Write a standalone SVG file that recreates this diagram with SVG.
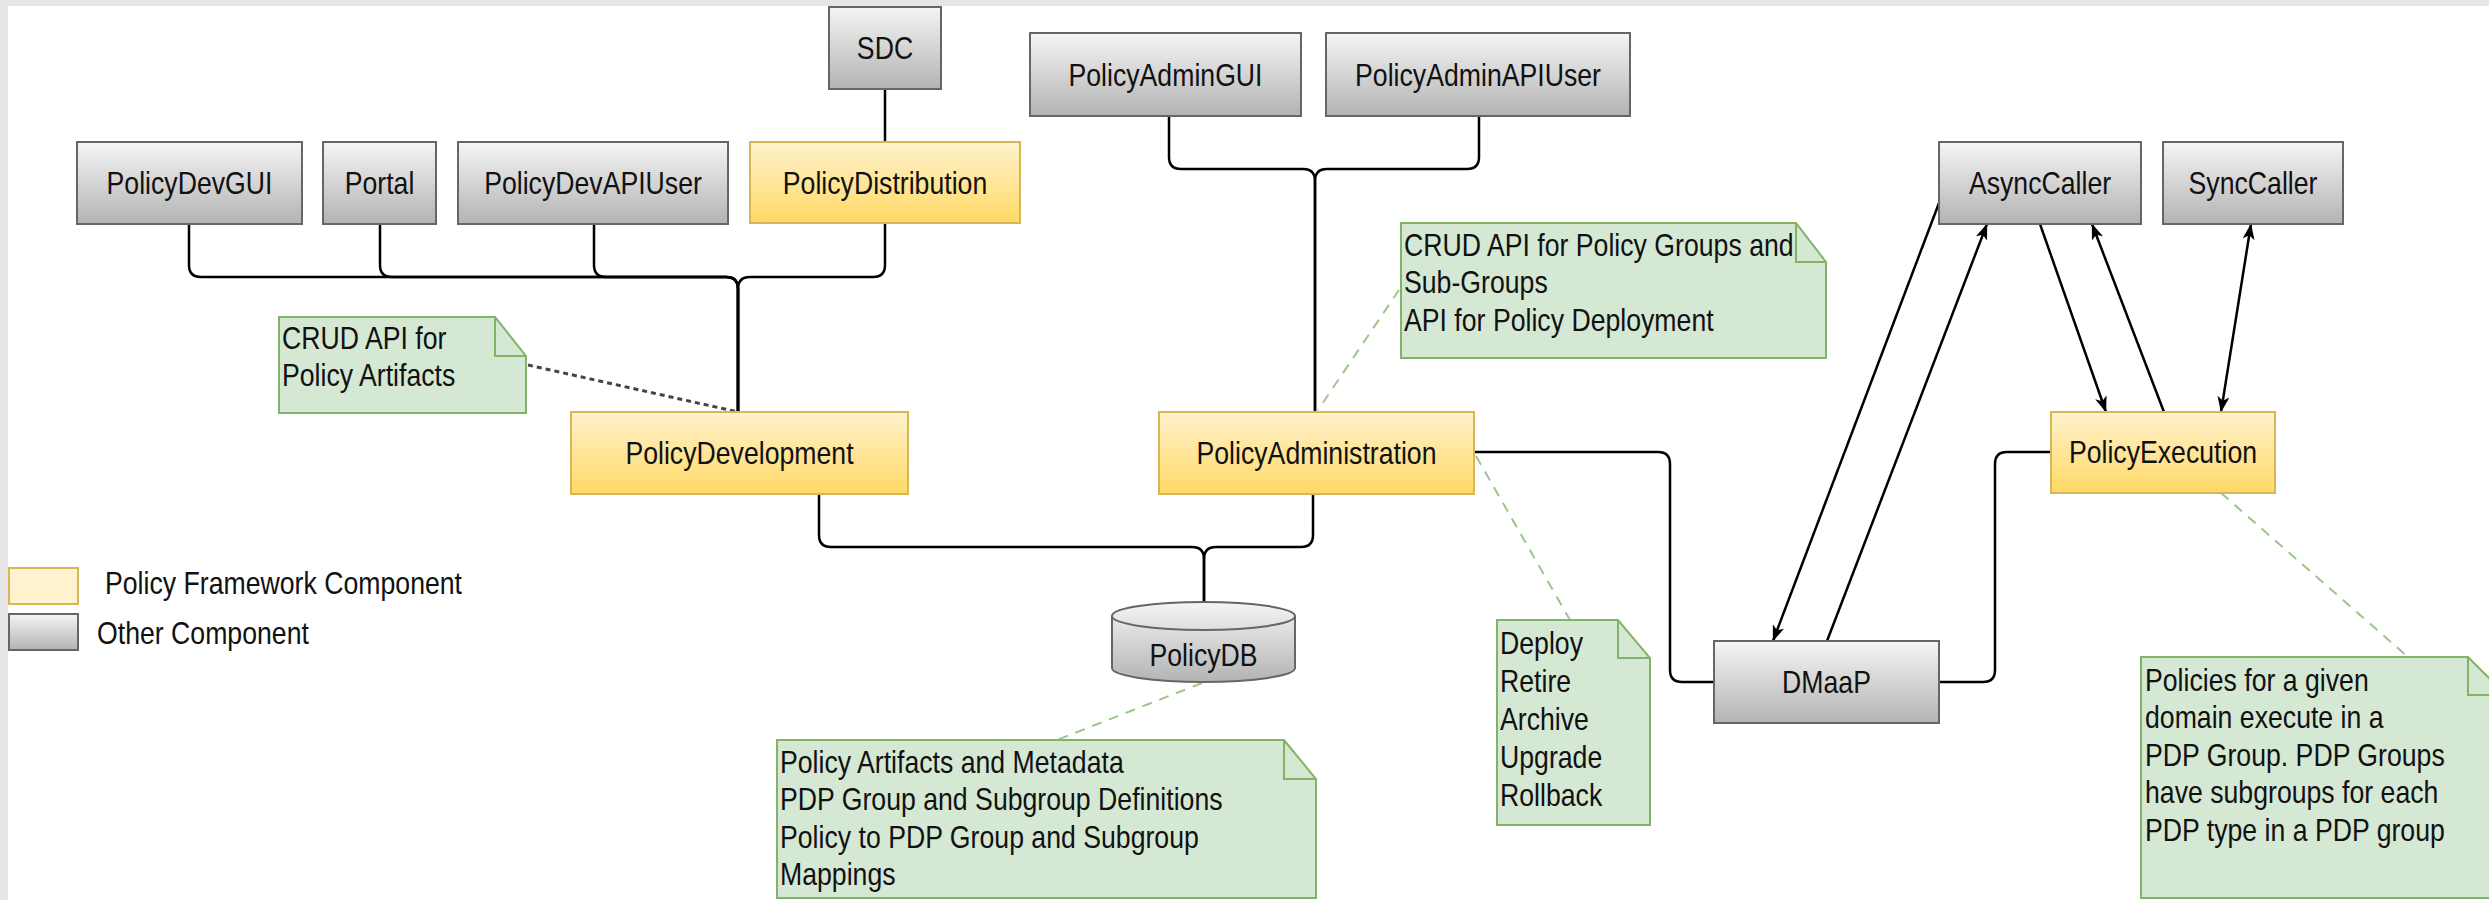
<svg xmlns="http://www.w3.org/2000/svg" width="2489" height="900" viewBox="0 0 2489 900">
<defs>
<linearGradient id="gGray" x1="0" y1="0" x2="0" y2="1"><stop offset="0" stop-color="#f5f5f5"/><stop offset="1" stop-color="#b3b3b3"/></linearGradient>
<linearGradient id="gYel" x1="0" y1="0" x2="0" y2="1"><stop offset="0" stop-color="#fff2cc"/><stop offset="1" stop-color="#ffd966"/></linearGradient>
<marker id="arr" viewBox="0 0 16 12" refX="15.5" refY="6" markerWidth="16" markerHeight="12" markerUnits="userSpaceOnUse" orient="auto-start-reverse"><path d="M0,0 L16,6 L0,12 L4,6 Z" fill="#000"/></marker>
<style>
.gray{fill:url(#gGray);stroke:#666;stroke-width:2}
.yel{fill:url(#gYel);stroke:#d6b656;stroke-width:2}
.note{fill:#d5e8d4;stroke:#82b366;stroke-width:2}
.fold{fill:none;stroke:#82b366;stroke-width:2}
.t{font-family:"Liberation Sans",Arial,Helvetica,sans-serif;font-size:31px;fill:#111}
.c{text-anchor:middle}
.edge{fill:none;stroke:#000;stroke-width:2.5}
.dashD{fill:none;stroke:#444;stroke-width:3;stroke-dasharray:5 4}
.dashG{fill:none;stroke:#9cc58a;stroke-width:2;stroke-dasharray:10 8}
</style>
</defs>
<rect x="0" y="0" width="2489" height="900" fill="#e6e6e6"/>
<rect x="8" y="6" width="2481" height="894" fill="#fff"/>

<g id="connectors">
<path class="edge" d="M885,89 V142"/>
<path class="edge" d="M189,224 V265 Q189,277 201,277 H726 Q738,277 738,289 V412"/>
<path class="edge" d="M380,224 V265 Q380,277 392,277 H726 Q738,277 738,289 V412"/>
<path class="edge" d="M594,224 V265 Q594,277 606,277 H726 Q738,277 738,289 V412"/>
<path class="edge" d="M885,223 V265 Q885,277 873,277 H750 Q738,277 738,289 V412"/>
<path class="edge" d="M1169,116 V157 Q1169,169 1181,169 H1303 Q1315,169 1315,181 V412"/>
<path class="edge" d="M1479,116 V157 Q1479,169 1467,169 H1327 Q1315,169 1315,181 V412"/>
<path class="edge" d="M819,494 V535 Q819,547 831,547 H1192 Q1204,547 1204,559 V602"/>
<path class="edge" d="M1313,494 V535 Q1313,547 1301,547 H1216 Q1204,547 1204,559 V602"/>
<path class="edge" d="M1474,452 H1658 Q1670,452 1670,464 V670 Q1670,682 1682,682 H1714"/>
<path class="edge" d="M2051,452 H2007 Q1995,452 1995,464 V670 Q1995,682 1983,682 H1939"/>
<path class="edge" marker-end="url(#arr)" d="M1939,203 L1773,641"/>
<path class="edge" marker-end="url(#arr)" d="M1827,641 L1987,224"/>
<path class="edge" marker-end="url(#arr)" d="M2040,224 L2106,412"/>
<path class="edge" marker-end="url(#arr)" d="M2164,412 L2092,224"/>
<path class="edge" marker-start="url(#arr)" marker-end="url(#arr)" d="M2251,224 L2221,412"/>
<path class="dashD" d="M528,365 L738,412"/>
<path class="dashG" d="M1399,290 L1318,410"/>
<path class="dashG" d="M1476,456 L1570,620"/>
<path class="dashG" d="M1202,683 L1057,740"/>
<path class="dashG" d="M2221,493 L2408,657"/>
</g>

<g id="SDC"><rect class="gray" x="829" y="7" width="112" height="82"/><text class="t c" transform="translate(885 59) scale(0.86 1)">SDC</text></g>
<g id="PolicyDevGUI"><rect class="gray" x="77" y="142" width="225" height="82"/><text class="t c" transform="translate(189.5 194) scale(0.86 1)">PolicyDevGUI</text></g>
<g id="Portal"><rect class="gray" x="323" y="142" width="113" height="82"/><text class="t c" transform="translate(379.5 194) scale(0.86 1)">Portal</text></g>
<g id="PolicyDevAPIUser"><rect class="gray" x="458" y="142" width="270" height="82"/><text class="t c" transform="translate(593 194) scale(0.86 1)">PolicyDevAPIUser</text></g>
<g id="PolicyDistribution"><rect class="yel" x="750" y="142" width="270" height="81"/><text class="t c" transform="translate(885 194) scale(0.86 1)">PolicyDistribution</text></g>
<g id="PolicyAdminGUI"><rect class="gray" x="1030" y="33" width="271" height="83"/><text class="t c" transform="translate(1165.5 86) scale(0.86 1)">PolicyAdminGUI</text></g>
<g id="PolicyAdminAPIUser"><rect class="gray" x="1326" y="33" width="304" height="83"/><text class="t c" transform="translate(1478 86) scale(0.86 1)">PolicyAdminAPIUser</text></g>
<g id="AsyncCaller"><rect class="gray" x="1939" y="142" width="202" height="82"/><text class="t c" transform="translate(2040 194) scale(0.86 1)">AsyncCaller</text></g>
<g id="SyncCaller"><rect class="gray" x="2163" y="142" width="180" height="82"/><text class="t c" transform="translate(2253 194) scale(0.86 1)">SyncCaller</text></g>
<g id="PolicyDevelopment"><rect class="yel" x="571" y="412" width="337" height="82"/><text class="t c" transform="translate(739.5 464) scale(0.86 1)">PolicyDevelopment</text></g>
<g id="PolicyAdministration"><rect class="yel" x="1159" y="412" width="315" height="82"/><text class="t c" transform="translate(1316.5 464) scale(0.86 1)">PolicyAdministration</text></g>
<g id="PolicyExecution"><rect class="yel" x="2051" y="412" width="224" height="81"/><text class="t c" transform="translate(2163 463) scale(0.86 1)">PolicyExecution</text></g>
<g id="DMaaP"><rect class="gray" x="1714" y="641" width="225" height="82"/><text class="t c" transform="translate(1826.5 693) scale(0.86 1)">DMaaP</text></g>
<g id="PolicyDB">
<path class="gray" d="M1112,616 A91.5,14 0 0 1 1295,616 V668 A91.5,14 0 0 1 1112,668 Z"/>
<path fill="none" stroke="#666" stroke-width="2" d="M1112,616 A91.5,14 0 0 0 1295,616"/>
<text class="t c" transform="translate(1203.5 666) scale(0.86 1)">PolicyDB</text>
</g>

<g id="noteCrudArtifacts">
<path class="note" d="M279,317 H495 L526,356 V413 H279 Z"/><path class="fold" d="M495,317 V356 H526"/>
<text class="t" transform="translate(282 349) scale(0.86 1)"><tspan x="0">CRUD API for</tspan><tspan x="0" dy="37.5">Policy Artifacts</tspan></text>
</g>
<g id="noteCrudGroups">
<path class="note" d="M1401,223 H1796 L1826,262 V358 H1401 Z"/><path class="fold" d="M1796,223 V262 H1826"/>
<text class="t" transform="translate(1404 256) scale(0.86 1)"><tspan x="0">CRUD API for Policy Groups and</tspan><tspan x="0" dy="37.5">Sub-Groups</tspan><tspan x="0" dy="37.5">API for Policy Deployment</tspan></text>
</g>
<g id="noteDeploy">
<path class="note" d="M1497,620 H1618 L1650,658 V825 H1497 Z"/><path class="fold" d="M1618,620 V658 H1650"/>
<text class="t" transform="translate(1500 654) scale(0.86 1)"><tspan x="0">Deploy</tspan><tspan x="0" dy="38">Retire</tspan><tspan x="0" dy="38">Archive</tspan><tspan x="0" dy="38">Upgrade</tspan><tspan x="0" dy="38">Rollback</tspan></text>
</g>
<g id="noteDB">
<path class="note" d="M777,740 H1284 L1316,779 V898 H777 Z"/><path class="fold" d="M1284,740 V779 H1316"/>
<text class="t" transform="translate(780 773) scale(0.86 1)"><tspan x="0">Policy Artifacts and Metadata</tspan><tspan x="0" dy="37.5">PDP Group and Subgroup Definitions</tspan><tspan x="0" dy="37.5">Policy to PDP Group and Subgroup</tspan><tspan x="0" dy="37.5">Mappings</tspan></text>
</g>
<g id="noteExec">
<path class="note" d="M2141,657 H2468 L2506,695 V898 H2141 Z"/><path class="fold" d="M2468,657 V695 H2506"/>
<text class="t" transform="translate(2145 691) scale(0.86 1)"><tspan x="0">Policies for a given</tspan><tspan x="0" dy="37.5">domain execute in a</tspan><tspan x="0" dy="37.5">PDP Group. PDP Groups</tspan><tspan x="0" dy="37.5">have subgroups for each</tspan><tspan x="0" dy="37.5">PDP type in a PDP group</tspan></text>
</g>

<g id="legend">
<rect x="9" y="568" width="69" height="36" fill="#fff2cc" stroke="#d6b656" stroke-width="2"/>
<text class="t" transform="translate(105 594) scale(0.86 1)">Policy Framework Component</text>
<rect class="gray" x="9" y="614" width="69" height="36"/>
<text class="t" transform="translate(97 644) scale(0.86 1)">Other Component</text>
</g>
</svg>
